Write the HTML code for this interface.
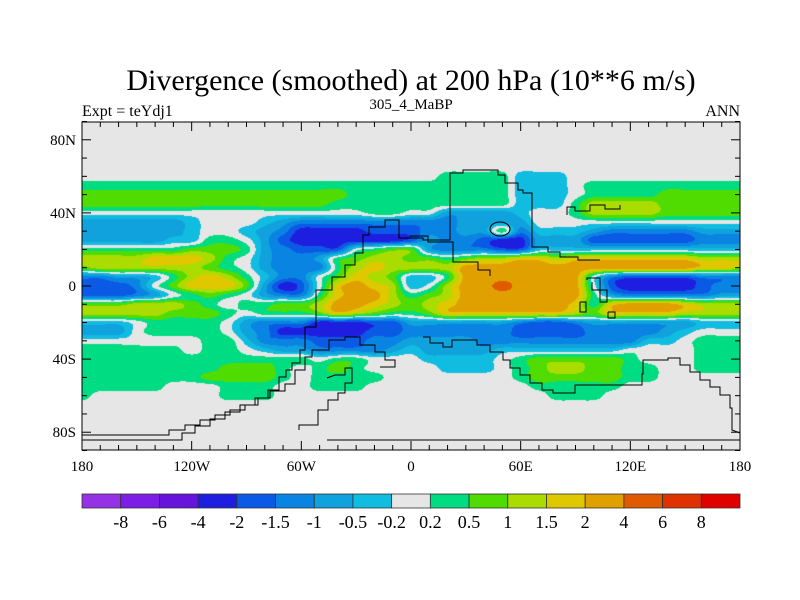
<!DOCTYPE html>
<html><head><meta charset="utf-8"><style>
html,body{margin:0;padding:0;background:#fff;width:800px;height:600px;overflow:hidden}
#wrap{position:relative;width:800px;height:600px}
#field{position:absolute;left:0;top:0}
svg{position:absolute;left:0;top:0}
text{font-family:"Liberation Serif",serif;fill:#000}
</style></head><body>
<div id="wrap">
<canvas id="field" width="800" height="600"></canvas>
<svg id="ov" width="800" height="600">
<text x="411" y="90" font-size="30" text-anchor="middle">Divergence (smoothed) at 200 hPa (10**6 m/s)</text>
<text x="82" y="116" font-size="16">Expt = teYdj1</text>
<text x="411" y="109" font-size="15" text-anchor="middle">305_4_MaBP</text>
<text x="740" y="116" font-size="16" text-anchor="end">ANN</text>
<g id="coast" fill="none" stroke="#000" stroke-width="1">
<polyline points="82,435 169,435 169,430 185,430 185,425 200,425 200,420 215,420 215,415 230,415 230,410 245,410 245,405 258,405 258,398 268,398 268,390 279,390 279,377 286,377 286,370 292,370 292,363 300,363 300,350 305,350 305,327 316,327 316,290 332,290 332,277 345,277 345,265 355,265 355,253 363,253 363,235 369,235 369,227 385,227 385,220 399,220 399,238 410,238 423,238 423,240 450,240 450,173 463,173 463,170 498,170 498,175 505,175 505,183 518,183 518,190 523,190 523,193 532,193 532,247 548,247 548,252 560,252 560,257 578,257 578,260 600,260"/>
<polyline points="82,440 182,440 182,433 195,433 195,426 210,426 210,419 225,419 225,412 240,412 240,405 255,405 255,398 270,398 270,391 285,391 285,384 295,384 295,370 305,370 305,357 312,357 312,350 329,350 329,340 345,340 345,337 360,337 360,345 375,345 375,352 385,352 385,360 395,360 395,367 380,367"/>
<polyline points="299,430 299,425 318,425 318,410 328,410 328,400 338,400 338,393 345,393 345,383 352,383 352,368 345,368 345,375 335,375 327,378"/>
<polyline points="327,440 740,440"/>
<polyline points="410,236 428,236 428,242 453,242 453,262 478,262 478,270 490,270 490,276"/>
<polyline points="587,280 587,278 600,278 600,302 607,302 607,290 592,290 592,282"/>
<polyline points="580,302 580,312 586,312 586,302 580,302"/>
<polyline points="608,312 608,318 615,318 615,312 608,312"/>
<polyline points="423,337 430,337 430,343 443,343 443,347 452,347 452,340 477,340 477,345 490,345 490,352 503,352 503,360 510,360 510,368 520,368 520,375 530,375 530,383 542,383 542,390 553,390 553,393 575,393 575,385 602,385 602,385 642,385 642,374 643,374 643,360 668,360 668,358 680,358 680,365 690,365 690,372 700,372 700,380 710,380 710,387 720,387 720,395 730,395 730,408 732,408 732,430 740,433"/>
<polyline points="567,215 567,207 575,207 575,211 590,211 590,205 605,205 605,209 620,209 620,205"/>
<ellipse cx="500" cy="229" rx="10" ry="7"/>
</g>
<g id="axes"></g>
<g id="cbar"></g>
</svg>
</div>
<script>
// Colour-bin index grid (0..16, 8 = near zero), run-length encoded; lon -180..180 step 10
const gridLats = [70,65,60,55,50,45,40,35,30,25,20,15,10,5,0,-5,-10,-15,-20,-25,-30,-35,-40,-45,-50,-55,-60,-65,-70];
const gridRowsRLE = [
"8*37",
"8*37",
"8*18 8 8 9*4 7*3 8*10",
"9*18 9 9*5 7*3 8 9*9",
"a*15 9*3 9 9*5 7*3 8 9*4 a*5",
"a*14 9*4 9 9*5 7*3 9 b*4 a*5",
"8*16 9*2 8 8 6*4 7 8*2 9 b*4 a*5",
"6*6 7 8*3 7 6 5*6 5 5*2 6*3 6 8*2 8*10",
"6*6 7 8*2 7 6 5 3*4 4*2 4 5*2 6*2 9 5 7 7*2 6 5*5 6*3",
"6*5 7 7 9*2 8 6 4 3*6 4 6 5*2 4 3*2 6 6*2 4*6 5*3",
"9*6 a*3 9 6 5 4*3 8 9 a a 6 5*3 4*2 7*12",
"b*4 c*3 b 9 8 6 5*2 6 9 a b*2 a a 9 a b*2 c*2 b c c*6 b*3",
"a b*6 a 9 8 6 5*3 9 b c b b b b d*7 d*6 c*2 b",
"5*2 6*2 7 9 b c b 9 7 5 5 8 a c b a 7 7 9 d*7 8 5 4*4 5 5*2",
"4*3 5 8 a c*3 a 6 3 4 8 c d c b 7 8 b d*2 e d*4 8 4 3*4 4 5*2",
"4*3 5 6 8 9 a 9 8 6 5*2 9 c d*2 b 9 a b d*7 9 6 5*5 6*2",
"a*3 b*3 a 9 8 9 9 a a b d*2 c b a b c d*6 c 9 c d*3 c b*3",
"b*5 a*3 9 8 9*3 a c b a 9 9 a c*7 b a c*4 b*4",
"7*3 8 9*4 8 6 5*3 3*3 4*2 6 6*5 5 4*2 5 6*6 7*3",
"6*3 8 9*4 8 6 5 3*5 4*2 5 5*5 4*4 5*4 6 7 8*3",
"8*7 9*2 7 5*3 4*3 5*2 6 6*3 5*9 7*2 8 9*3",
"9*6 8 9*2 8 7 6*2 5*4 6 7 6*4 7*7 8*4 9*3",
"9*13 8 9*2 8*2 8 7*4 8 9 a*5 9 8*3 9*3",
"9*8 a*3 9 8 9 a 9 8*2 8 8 7*3 8 9 a b*2 a*2 9*2 8*2 9*3",
"9*7 a*4 9 8 9*4 8 8 8*5 9 a*5 9 9 8*5",
"9*5 8*3 9*3 8*2 9*3 8*2 8 8*6 9*5 8*7",
"9 8*7 9*3 8*7 8 8*7 9*3 8*8",
"8*37",
"8*37"
];
const binColors = ["#9632e6","#7d1ee6","#6614dc","#1e1ee0","#0a5ae6","#0a84e2","#10a2dc","#10bce0","#e6e6e6","#00dc82","#50dc00","#aadc00","#e0c800","#e0a000","#e05a00","#e03200","#e00000"];
const binLabels = ["-8","-6","-4","-2","-1.5","-1","-0.5","-0.2","0.2","0.5","1","1.5","2","4","6","8"];
const latTicks = [80,40,0,-40,-80];
const latTickLabels = ["80N","40N","0","40S","80S"];
const lonTicks = [-180,-120,-60,0,60,120,180];
const lonTickLabels = ["180","120W","60W","0","60E","120E","180"];

function decode(s){const out=[];s.split(' ').forEach(t=>{if(!t)return;const p=t.split('*');const n=p.length>1?parseInt(p[1]):1;for(let i=0;i<n;i++)out.push(parseInt(p[0],17));});while(out.length<37)out.push(8);return out.slice(0,37);}
const grid = gridRowsRLE.map(decode);

const X0=82,X1=740,Y0=122,Y1=450,K=(X1-X0)/360,YEQ=286;
function xOf(lon){return X0+(lon+180)*K;}
function yOf(lat){return YEQ-lat*K;}
function g(r,c){r=Math.max(0,Math.min(grid.length-1,r));c=Math.max(0,Math.min(36,c));return grid[r][c];}
function cr(p0,p1,p2,p3,t){return p1+0.5*t*(p2-p0+t*(2*p0-5*p1+4*p2-p3+t*(3*(p1-p2)+p3-p0)));}
function valAt(lon,lat){
  const fc=(lon+180)/10, fr=(gridLats[0]-lat)/5;
  if(fr<0||fr>grid.length-1) return 8;
  const c=Math.floor(fc), r=Math.floor(fr), tx=fc-c, ty=fr-r;
  const rows=[];
  for(let k=-1;k<=2;k++) rows.push(cr(g(r+k,c-1),g(r+k,c),g(r+k,c+1),g(r+k,c+2),tx));
  let v=cr(rows[0],rows[1],rows[2],rows[3],ty);
  const a=g(r,c),b=g(r,c+1),d=g(r+1,c),e=g(r+1,c+1);
  const lo=Math.min(a,b,d,e),hi=Math.max(a,b,d,e);
  return Math.max(lo,Math.min(hi,v));
}
const cv=document.getElementById('field'),ctx=cv.getContext('2d');
ctx.fillStyle='#fff';ctx.fillRect(0,0,800,600);
const rgb=binColors.map(h=>[parseInt(h.substr(1,2),16),parseInt(h.substr(3,2),16),parseInt(h.substr(5,2),16)]);
const W=X1-X0,H=Y1-Y0;
const img=ctx.getImageData(X0,Y0,W,H);
for(let py=0;py<H;py++){for(let px=0;px<W;px++){
  const lon=-180+(px+0.5)/K, lat=(YEQ-(Y0+py+0.5))/K;
  let b=Math.round(valAt(lon,lat));b=Math.max(0,Math.min(16,b));
  const i=(py*W+px)*4;img.data[i]=rgb[b][0];img.data[i+1]=rgb[b][1];img.data[i+2]=rgb[b][2];img.data[i+3]=255;}}
ctx.putImageData(img,X0,Y0);

const NS='http://www.w3.org/2000/svg';
function mk(tag,attrs,parent){const e=document.createElementNS(NS,tag);for(const k in attrs)e.setAttribute(k,attrs[k]);parent.appendChild(e);return e;}
const ax=document.getElementById('axes');
const frame=mk('rect',{x:X0,y:Y0,width:W,height:H,fill:'none',stroke:'#000','stroke-width':1},ax);


for(let lon=-180;lon<=180;lon+=10){
  const x=xOf(lon), L=(lon%60===0)?9:5;
  const t1=mk('line',{x1:x,y1:Y1,x2:x,y2:Y1-L,stroke:'#000'},ax);
  
  
  const t2=mk('line',{x1:x,y1:Y0,x2:x,y2:Y0+L,stroke:'#000'},ax);
  
  
}
for(let lat=-90;lat<=90;lat+=10){
  const y=yOf(lat), L=(lat%40===0)?9:5;
  const t1=mk('line',{x1:X0,y1:y,x2:X0+L,y2:y,stroke:'#000'},ax);
  
  
  const t2=mk('line',{x1:X1,y1:y,x2:X1-L,y2:y,stroke:'#000'},ax);
  
  
}
latTicks.forEach((lat,i)=>{
  const t=mk('text',{x:X0-6,y:yOf(lat)+5,'font-size':15,'text-anchor':'end'},ax);t.textContent=latTickLabels[i];
  
  
});
lonTicks.forEach((lon,i)=>{
  const t=mk('text',{x:xOf(lon),y:471,'font-size':15,'text-anchor':'middle'},ax);t.textContent=lonTickLabels[i];
  
  
});
const cb=document.getElementById('cbar');
const bw=W/binColors.length;
binColors.forEach((c,i)=>{
  const r=mk('rect',{x:X0+i*bw,y:494,width:bw,height:14,fill:c,stroke:'#333','stroke-width':0.8},cb);
  
  
});
binLabels.forEach((s,i)=>{
  const t=mk('text',{x:X0+(i+1)*bw,y:528,'font-size':18,'text-anchor':'middle'},cb);t.textContent=s;
  
  
});
</script>
</body></html>
